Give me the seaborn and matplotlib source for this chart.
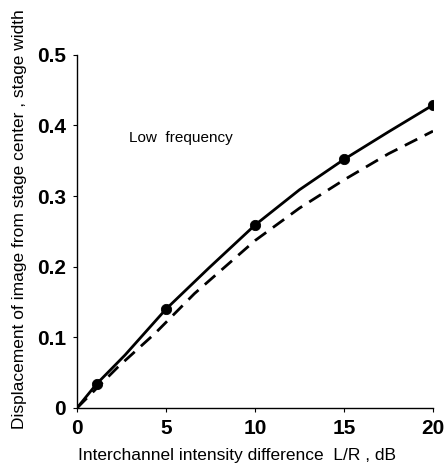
import matplotlib
matplotlib.use("Agg")
import matplotlib.pyplot as plt
import pandas as pd
import seaborn as sns

# measured points (solid curve)
meas_x = [1.1, 5, 10, 15, 20]
meas_y = [0.034, 0.140, 0.259, 0.352, 0.429]

# solid curve
solid_x = [0, 1.1, 2.7, 5, 7.4, 10, 12.5, 15, 17.5, 20]
solid_y = [0, 0.034, 0.075, 0.140, 0.198, 0.259, 0.309, 0.352, 0.391, 0.429]

# dashed curve
dash_x = [0, 2.3, 4.4, 6.6, 10, 12.5, 15, 17.5, 20]
dash_y = [0, 0.058, 0.106, 0.162, 0.237, 0.283, 0.323, 0.360, 0.392]

x_ticks = [0, 5, 10, 15, 20]
y_ticks = [0, 0.1, 0.2, 0.3, 0.4, 0.5]
y_tick_labels = ['0', '0.1', '0.2', '0.3', '0.4', '0.5']

sns.set_style('ticks')
plt.rcParams['font.family'] = ['Liberation Sans', 'DejaVu Sans']
plt.rcParams['text.color'] = 'black'
plt.rcParams['axes.labelcolor'] = 'black'
plt.rcParams['xtick.color'] = 'black'
plt.rcParams['ytick.color'] = 'black'

df_solid = pd.DataFrame({'x': solid_x, 'y': solid_y})
df_dash = pd.DataFrame({'x': dash_x, 'y': dash_y})
df_meas = pd.DataFrame({'x': meas_x, 'y': meas_y})

fig = plt.figure(figsize=(4.45, 4.65), dpi=100)
ax = fig.add_axes([0.173, 0.1226, 0.80, 0.7594])

sns.lineplot(data=df_solid, x='x', y='y', ax=ax, color='black', linewidth=2.0)
sns.lineplot(data=df_dash, x='x', y='y', ax=ax, color='black', linewidth=2.0,
             linestyle=(0, (5, 3)))
sns.scatterplot(data=df_meas, x='x', y='y', ax=ax,
                color='black', s=55, edgecolor='black', zorder=5)

ax.set_xlim(0, 20)
ax.set_ylim(0, 0.5)
ax.set_xticks(x_ticks)
ax.set_yticks(y_ticks)
ax.set_yticklabels(y_tick_labels)
ax.tick_params(axis='both', labelsize=15, length=3, width=0.8, direction='out', pad=5)
for lab in ax.get_xticklabels() + ax.get_yticklabels():
    lab.set_fontweight('bold')

ax.spines['top'].set_visible(False)
ax.spines['right'].set_visible(False)
ax.spines['left'].set_linewidth(1.0)
ax.spines['bottom'].set_linewidth(1.0)
ax.spines['left'].set_color('black')
ax.spines['bottom'].set_color('black')

ax.set_xlabel('Interchannel intensity difference  L/R , dB', fontsize=12.5)
ax.set_ylabel('Displacement of image from stage center , stage width', fontsize=12.5)
ax.xaxis.set_label_coords(0.45, -0.112)
ax.yaxis.set_label_coords(-0.14, 0.535)

ax.text(2.9, 0.383, 'Low  frequency', fontsize=11, va='center', ha='left')

fig.savefig('out.png', dpi=100)
